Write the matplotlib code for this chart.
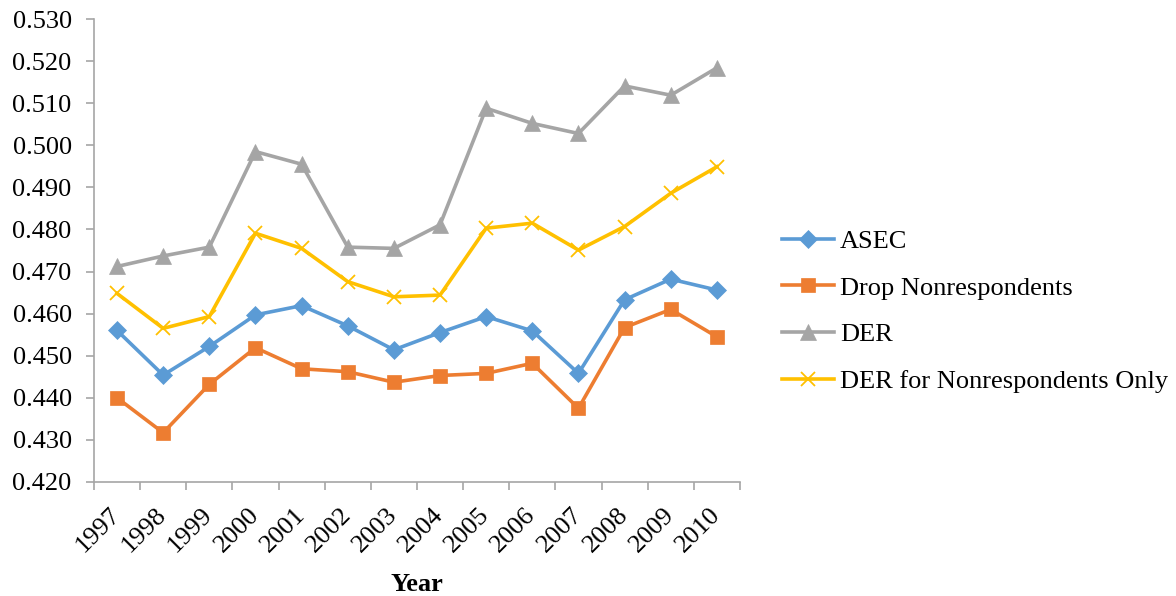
import matplotlib
matplotlib.use("Agg")
import matplotlib.pyplot as plt
from matplotlib.ticker import FormatStrFormatter, MultipleLocator

years = ["1997", "1998", "1999", "2000", "2001", "2002", "2003",
         "2004", "2005", "2006", "2007", "2008", "2009", "2010"]

asec = [0.4560, 0.4454, 0.4522, 0.4597, 0.4619, 0.4571, 0.4514,
        0.4555, 0.4593, 0.4559, 0.4458, 0.4633, 0.4682, 0.4656]
drop_nonresp = [0.4400, 0.4317, 0.4432, 0.4519, 0.4469, 0.4462, 0.4437,
                0.4453, 0.4458, 0.4482, 0.4375, 0.4567, 0.4610, 0.4545]
der = [0.4712, 0.4737, 0.4758, 0.4985, 0.4955, 0.4758, 0.4755,
       0.4811, 0.5088, 0.5052, 0.5028, 0.5141, 0.5119, 0.5184]
der_nonresp = [0.4648, 0.4565, 0.4593, 0.4791, 0.4755, 0.4676, 0.4640,
               0.4644, 0.4803, 0.4815, 0.4751, 0.4807, 0.4886, 0.4949]

series = [
    ("ASEC", asec, "#5B9BD5", "D", 9.5),
    ("Drop Nonrespondents", drop_nonresp, "#ED7D31", "s", 10),
    ("DER", der, "#A5A5A5", "^", 11),
    ("DER for Nonrespondents Only", der_nonresp, "#FFC000", "x", 10),
]

plt.rcParams["font.family"] = ["Liberation Serif", "DejaVu Serif"]
FS = 19

fig = plt.figure(figsize=(11.76, 5.96), dpi=100)
ax = fig.add_axes([0.0799, 0.1913, 0.5493, 0.7768])

x = list(range(len(years)))
for name, vals, color, marker, ms in series:
    ax.plot(x, vals, color=color, linewidth=2.6, marker=marker,
            markersize=ms, markeredgewidth=1.3 if marker == "x" else 0.5,
            markeredgecolor=color, markerfacecolor=color, label=name,
            solid_joinstyle="round")

ax.set_xlim(-0.5, len(years) - 0.5)
ax.set_ylim(0.420, 0.530)
ax.yaxis.set_major_locator(MultipleLocator(0.010))
ax.yaxis.set_major_formatter(FormatStrFormatter("%.3f"))

ax.set_xticks(x)
ax.set_xticklabels(years, rotation=45, ha="right", va="center",
                   rotation_mode="anchor")
ax.set_xticks([i - 0.5 for i in range(len(years) + 1)], minor=True)
ax.tick_params(axis="x", which="major", length=0, pad=21, labelsize=FS)
ax.tick_params(axis="x", which="minor", length=6, width=1.2,
               color="#A6A6A6", direction="out")
ax.tick_params(axis="y", length=6, width=1.2, color="#A6A6A6",
               direction="out", pad=10, labelsize=FS)

for side in ("top", "right"):
    ax.spines[side].set_visible(False)
for side in ("left", "bottom"):
    ax.spines[side].set_color("#A6A6A6")
    ax.spines[side].set_linewidth(1.2)

ax.set_xlabel("Year", fontsize=FS, fontweight="bold", labelpad=12)

ax.legend(loc="center left", bbox_to_anchor=(1.049, 0.369), frameon=False,
          fontsize=FS, handlelength=1.97, handletextpad=0.23,
          labelspacing=0.88, borderaxespad=0)

fig.savefig("out.png", dpi=100)
